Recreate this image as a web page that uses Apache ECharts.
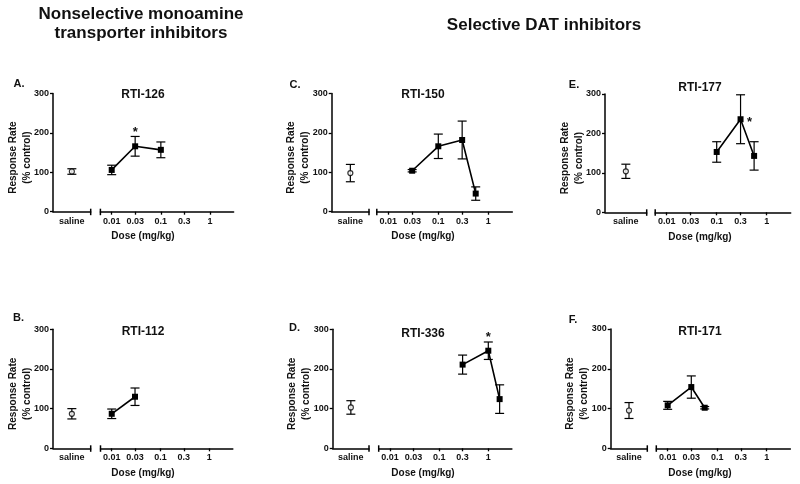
<!DOCTYPE html>
<html><head><meta charset="utf-8">
<script src="https://cdn.jsdelivr.net/npm/echarts@6/dist/echarts.min.js"></script>
<style>html,body{margin:0;padding:0;background:#fff}#c{width:800px;height:484px}</style>
</head><body><div id="c"></div>
<script>
// ---- tick labels / categories ----
const yTicks = [0, 100, 200, 300];
const doseTicks = [0.01, 0.03, 0.1, 0.3, 1];
const doseTickLabels = ['0.01', '0.03', '0.1', '0.3', '1'];
const salineCategory = ['saline'];
const headers = ['Nonselective monoamine\ntransporter inhibitors', 'Selective DAT inhibitors'];

// ---- A. RTI-126 ----
const salineA = [102, 7];
const dosesA = [0.01, 0.03, 0.1];
const meanA = [106, 166, 157];
const semA = [12, 25, 20];
const starsA = [0.03];
// ---- B. RTI-112 ----
const salineB = [87, 13];
const dosesB = [0.01, 0.03];
const meanB = [87, 130];
const semB = [12, 22];
const starsB = [];
// ---- C. RTI-150 ----
const salineC = [98, 22];
const dosesC = [0.03, 0.1, 0.3, 0.56];
const meanC = [104, 166, 182, 46];
const semC = [3, 31, 48, 17];
const starsC = [];
// ---- D. RTI-336 ----
const salineD = [103, 17];
const dosesD = [0.3, 1, 1.7];
const meanD = [211, 246, 124];
const semD = [24, 22, 36];
const starsD = [1];
// ---- E. RTI-177 ----
const salineE = [104, 18];
const dosesE = [0.1, 0.3, 0.56];
const meanE = [153, 236, 143];
const semE = [26, 62, 36];
const starsE = [0.3];
// ---- F. RTI-171 ----
const salineF = [95, 20];
const dosesF = [0.01, 0.03, 0.056];
const meanF = [108, 154, 102];
const semF = [10, 28, 3];
const starsF = [];

const FONT = "'Liberation Sans', Arial, sans-serif";
const logMin = Math.pow(10, -2.23), logMax = Math.pow(10, 0.48);

const panels = [
  {letter:'A.', name:'RTI-126', saline:salineA, doses:dosesA, mean:meanA, sem:semA, stars:starsA, starSide:'top',
   yX:53, segEnd:90.7, rL:100.4, rW:133.2, top:93.5, h:118.2, titleX:143, titleY:95, lx:19, ly:84},
  {letter:'B.', name:'RTI-112', saline:salineB, doses:dosesB, mean:meanB, sem:semB, stars:starsB, starSide:'top',
   yX:53, segEnd:90.7, rL:100.5, rW:132.3, top:329.3, h:119, titleX:143, titleY:331.7, lx:18.5, ly:318},
  {letter:'C.', name:'RTI-150', saline:salineC, doses:dosesC, mean:meanC, sem:semC, stars:starsC, starSide:'top',
   yX:331.7, segEnd:369, rL:376.8, rW:135.5, top:93.5, h:118.2, titleX:423, titleY:95, lx:295, ly:84.5},
  {letter:'D.', name:'RTI-336', saline:salineD, doses:dosesD, mean:meanD, sem:semD, stars:starsD, starSide:'top',
   yX:332.7, segEnd:369, rL:378.7, rW:133.2, top:329.3, h:119, titleX:423, titleY:334, lx:294.5, ly:327.5},
  {letter:'E.', name:'RTI-177', saline:salineE, doses:dosesE, mean:meanE, sem:semE, stars:starsE, starSide:'right',
   yX:605, segEnd:646.7, rL:655.2, rW:135.5, top:94, h:118.3, titleX:700, titleY:88, lx:574, ly:85},
  {letter:'F.', name:'RTI-171', saline:salineF, doses:dosesF, mean:meanF, sem:semF, stars:starsF, starSide:'top',
   yX:610.7, segEnd:647.3, rL:656.3, rW:134.1, top:329, h:119.3, titleX:700, titleY:332, lx:573, ly:320}
];

const grid = [], xAxis = [], yAxis = [], series = [], graphic = [];
const lbl = {color:'#111', fontFamily:FONT, fontWeight:'bold', fontSize:9};
const axLine = {show:true, lineStyle:{color:'#000', width:1.5}};

function errRender(params, api) {
  const x = api.value(0), m = api.value(1), s = api.value(2);
  const t = api.coord([x, m + s]), b = api.coord([x, m - s]);
  const hw = 4.5, st = {stroke:'#000', lineWidth:1.2};
  return {type:'group', children:[
    {type:'line', shape:{x1:t[0], y1:t[1], x2:b[0], y2:b[1]}, style:st},
    {type:'line', shape:{x1:t[0]-hw, y1:t[1], x2:t[0]+hw, y2:t[1]}, style:st},
    {type:'line', shape:{x1:b[0]-hw, y1:b[1], x2:b[0]+hw, y2:b[1]}, style:st}
  ]};
}

panels.forEach((p, i) => {
  const gL = i * 2, gR = i * 2 + 1;
  grid.push({left:p.yX, top:p.top, width:p.segEnd - p.yX, height:p.h});
  grid.push({left:p.rL, top:p.top, width:p.rW, height:p.h});
  xAxis.push({type:'category', gridIndex:gL, data:salineCategory, boundaryGap:true,
    axisLine:axLine, axisTick:{alignWithLabel:true, length:3, lineStyle:{color:'#000', width:1.3}},
    axisLabel:Object.assign({margin:5}, lbl)});
  xAxis.push({type:'log', gridIndex:gR, logBase:10, min:logMin, max:logMax,
    axisLine:axLine, splitLine:{show:false}, minorTick:{show:false},
    axisTick:{customValues:doseTicks, length:3, lineStyle:{color:'#000', width:1.3}},
    axisLabel:Object.assign({margin:5, customValues:doseTicks,
      formatter:v => { const k = doseTicks.findIndex(d => Math.abs(Math.log10(d) - Math.log10(v)) < 1e-6); return k >= 0 ? doseTickLabels[k] : ''; }}, lbl)});
  yAxis.push({type:'value', gridIndex:gL, min:yTicks[0], max:yTicks[yTicks.length-1], interval:100,
    axisLine:axLine, axisTick:{show:true, length:3, lineStyle:{color:'#000', width:1.3}},
    axisLabel:Object.assign({margin:4}, lbl), splitLine:{show:false},
    name:'Response Rate\n(% control)', nameLocation:'middle', nameGap:19, nameRotate:90, nameMoveOverlap:false,
    nameTextStyle:{color:'#111', fontFamily:FONT, fontWeight:'bold', fontSize:10, lineHeight:14, padding:[0, 10, 0, 0]}});
  yAxis.push({type:'value', gridIndex:gR, min:yTicks[0], max:yTicks[yTicks.length-1], show:false});

  // saline
  series.push({type:'custom', xAxisIndex:gL, yAxisIndex:gL, renderItem:errRender, z:3,
    data:[[0, p.saline[0], p.saline[1]]]});
  series.push({type:'scatter', xAxisIndex:gL, yAxisIndex:gL, symbol:'circle', symbolSize:5, z:5,
    itemStyle:{color:'#fff', borderColor:'#000', borderWidth:1.2}, data:[[0, p.saline[0]]]});
  // drug
  const errData = p.doses.map((d, k) => [d, p.mean[k], p.sem[k]]);
  series.push({type:'custom', xAxisIndex:gR, yAxisIndex:gR, renderItem:errRender, z:3, data:errData});
  series.push({type:'line', xAxisIndex:gR, yAxisIndex:gR, symbol:'rect', symbolSize:6, z:5,
    lineStyle:{color:'#000', width:1.6}, itemStyle:{color:'#000'},
    data:p.doses.map((d, k) => [d, p.mean[k]])});
  if (p.stars.length) {
    const side = p.starSide;
    series.push({type:'custom', xAxisIndex:gR, yAxisIndex:gR, z:6,
      data:p.stars.map(d => { const k = p.doses.indexOf(d); return [d, p.mean[k], p.sem[k]]; }),
      renderItem:(params, api) => {
        const x = api.value(0), m = api.value(1), s = api.value(2);
        let pt, dx = 0, dy = 0;
        if (side === 'top') { pt = api.coord([x, m + s]); dy = 2; }
        else { pt = api.coord([x, m]); dx = 9; dy = 10; }
        return {type:'text', x:pt[0] + dx, y:pt[1] + dy,
          style:{text:'*', font:'bold 13px ' + FONT, fill:'#111', align:'center', verticalAlign:'bottom'}};
      }});
  }
  // axis-break caps
  const yb = p.top + p.h;
  [p.segEnd, p.rL].forEach(cx => graphic.push({type:'line', shape:{x1:cx, y1:yb - 3, x2:cx, y2:yb + 3.5},
    style:{stroke:'#000', lineWidth:1.5}}));
  // texts
  graphic.push({type:'text', x:p.titleX, y:p.titleY,
    style:{text:p.name, font:'bold 12px ' + FONT, fill:'#111', align:'center', verticalAlign:'middle'}});
  graphic.push({type:'text', x:p.lx, y:p.ly,
    style:{text:p.letter, font:'bold 11px ' + FONT, fill:'#111', align:'center', verticalAlign:'middle'}});
  graphic.push({type:'text', x:p.titleX, y:yb + 24.5,
    style:{text:'Dose (mg/kg)', font:'bold 10px ' + FONT, fill:'#111', align:'center', verticalAlign:'middle'}});
});

graphic.push({type:'text', x:141, y:24,
  style:{text:headers[0], font:'bold 17px ' + FONT, fill:'#111', align:'center', verticalAlign:'middle', lineHeight:19}});
graphic.push({type:'text', x:544, y:25,
  style:{text:headers[1], font:'bold 17px ' + FONT, fill:'#111', align:'center', verticalAlign:'middle'}});

const chart = echarts.init(document.getElementById('c'), null, {renderer:'canvas'});
chart.setOption({animation:false, backgroundColor:'#fff', textStyle:{fontFamily:FONT},
  grid, xAxis, yAxis, series, graphic});
</script></body></html>
